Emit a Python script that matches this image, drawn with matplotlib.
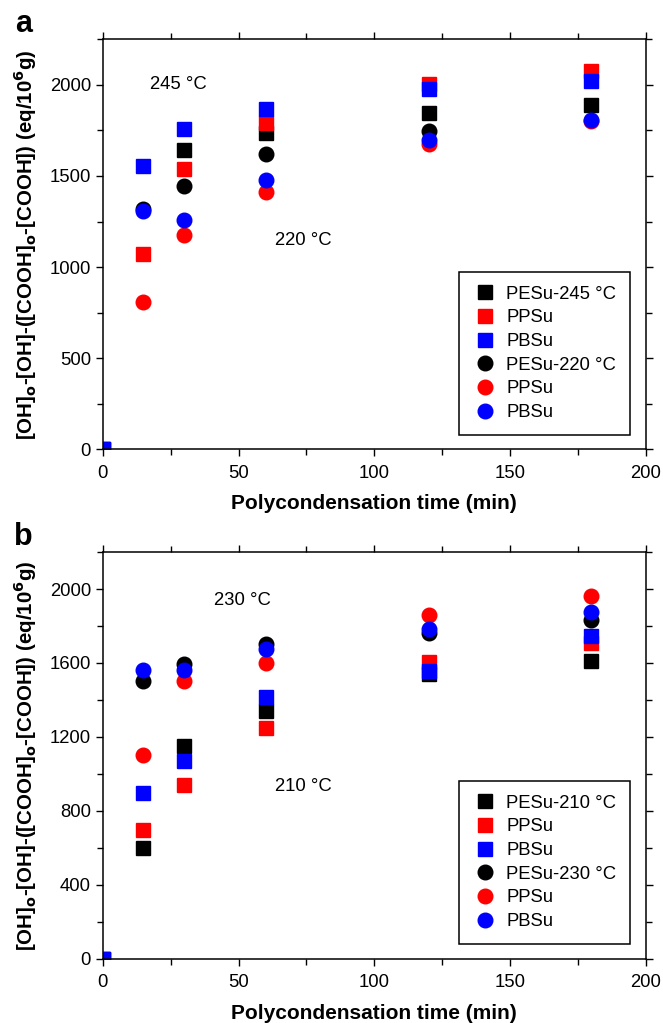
import numpy as np
import matplotlib.pyplot as plt
from matplotlib.ticker import MultipleLocator

plt.rcParams['font.family'] = ['Liberation Sans', 'DejaVu Sans']

# ---- panel a data (squares 245 C, circles 220 C) ----
t_sq_a = {'PESu': [0, 30, 60, 120, 180],
          'PPSu': [0, 15, 30, 60, 120, 180],
          'PBSu': [0, 15, 30, 60, 120, 180]}
v_sq_a = {'PESu': [0, 1642, 1737, 1845, 1887],
          'PPSu': [0, 1074, 1537, 1792, 2005, 2078],
          'PBSu': [0, 1552, 1757, 1865, 1975, 2020]}
t_ci_a = {'PESu': [15, 30, 60, 120],
          'PPSu': [15, 30, 60, 120, 180],
          'PBSu': [15, 30, 60, 120, 180]}
v_ci_a = {'PESu': [1321, 1443, 1618, 1744],
          'PPSu': [811, 1178, 1411, 1673, 1800],
          'PBSu': [1307, 1256, 1479, 1695, 1808]}

# ---- panel b data (squares 210 C, circles 230 C) ----
t_b = [15, 30, 60, 120, 180]
v_sq_b = {'PESu': [600, 1152, 1338, 1540, 1613],
          'PPSu': [698, 940, 1246, 1607, 1709],
          'PBSu': [897, 1069, 1416, 1558, 1748]}
v_ci_b = {'PESu': [1504, 1597, 1700, 1761, 1835],
          'PPSu': [1101, 1504, 1602, 1859, 1962],
          'PBSu': [1562, 1564, 1678, 1786, 1877]}

colors = {'PESu': 'black', 'PPSu': 'red', 'PBSu': 'blue'}
fs = 13.3

fig = plt.figure(figsize=(6.63, 10.23), dpi=100)
ax1 = fig.add_axes([0.155, 0.5608, 0.819, 0.4008])
ax2 = fig.add_axes([0.155, 0.0626, 0.819, 0.3978])


def style(ax, ytop, ymaj, ymin):
    ax.set_xlim(0, 200)
    ax.set_ylim(0, ytop)
    ax.xaxis.set_major_locator(MultipleLocator(50))
    ax.xaxis.set_minor_locator(MultipleLocator(25))
    ax.yaxis.set_major_locator(MultipleLocator(ymaj))
    ax.yaxis.set_minor_locator(MultipleLocator(ymin))
    ax.tick_params(which='both', direction='out', top=True, right=True,
                   labelsize=fs, width=1)
    ax.tick_params(which='major', length=5)
    ax.tick_params(which='minor', length=4)
    ax.tick_params(axis='x', pad=6)
    for s in ax.spines.values():
        s.set_linewidth(1.1)
    ax.set_xlabel('Polycondensation time (min)', fontsize=15, fontweight='bold',
                  labelpad=9)
    ax.set_ylabel(r'[OH]$_\mathbf{o}$-[OH]-([COOH]$_\mathbf{o}$-[COOH]) (eq/10$^\mathbf{6}$g)',
                  fontsize=14.8, fontweight='bold')
    ax.yaxis.set_label_coords(-0.118, 0.5)


def legend(ax, yb):
    leg = ax.legend(loc='lower right', bbox_to_anchor=(0.971, yb), borderaxespad=0,
                    fontsize=fs, fancybox=False, edgecolor='black', framealpha=1,
                    labelspacing=0.36, handletextpad=0.5, borderpad=0.75,
                    handlelength=1.3)
    leg.get_frame().set_linewidth(1.1)


ms = 9.5
# panel a
for k in ['PESu', 'PPSu', 'PBSu']:
    lab = 'PESu-245 °C' if k == 'PESu' else k
    ax1.plot(t_sq_a[k], v_sq_a[k], 's', color=colors[k], ms=ms, label=lab)
for k in ['PESu', 'PPSu', 'PBSu']:
    lab = 'PESu-220 °C' if k == 'PESu' else k
    ax1.plot(t_ci_a[k], v_ci_a[k], 'o', color=colors[k], ms=ms + 1, label=lab)
style(ax1, 2250, 500, 250)
ax1.text(28, 2000, '245 °C', fontsize=fs, va='center', ha='center')
ax1.text(74, 1148, '220 °C', fontsize=fs, va='center', ha='center')
legend(ax1, 0.035)

# panel b
for k in ['PESu', 'PPSu', 'PBSu']:
    lab = 'PESu-210 °C' if k == 'PESu' else k
    ax2.plot([0] + t_b, [0] + v_sq_b[k], 's', color=colors[k], ms=ms, label=lab)
for k in ['PESu', 'PPSu', 'PBSu']:
    lab = 'PESu-230 °C' if k == 'PESu' else k
    ax2.plot(t_b, v_ci_b[k], 'o', color=colors[k], ms=ms + 1, label=lab)
style(ax2, 2200, 400, 200)
ax2.text(51.5, 1938, '230 °C', fontsize=fs, va='center', ha='center')
ax2.text(74, 931, '210 °C', fontsize=fs, va='center', ha='center')
legend(ax2, 0.037)

fig.text(0.035, 1 - 24 / 1023, 'a', fontsize=22, fontweight='bold', ha='center', va='center')
fig.text(0.035, 1 - 537 / 1023, 'b', fontsize=22, fontweight='bold', ha='center', va='center')

fig.savefig('out.png', dpi=100)
